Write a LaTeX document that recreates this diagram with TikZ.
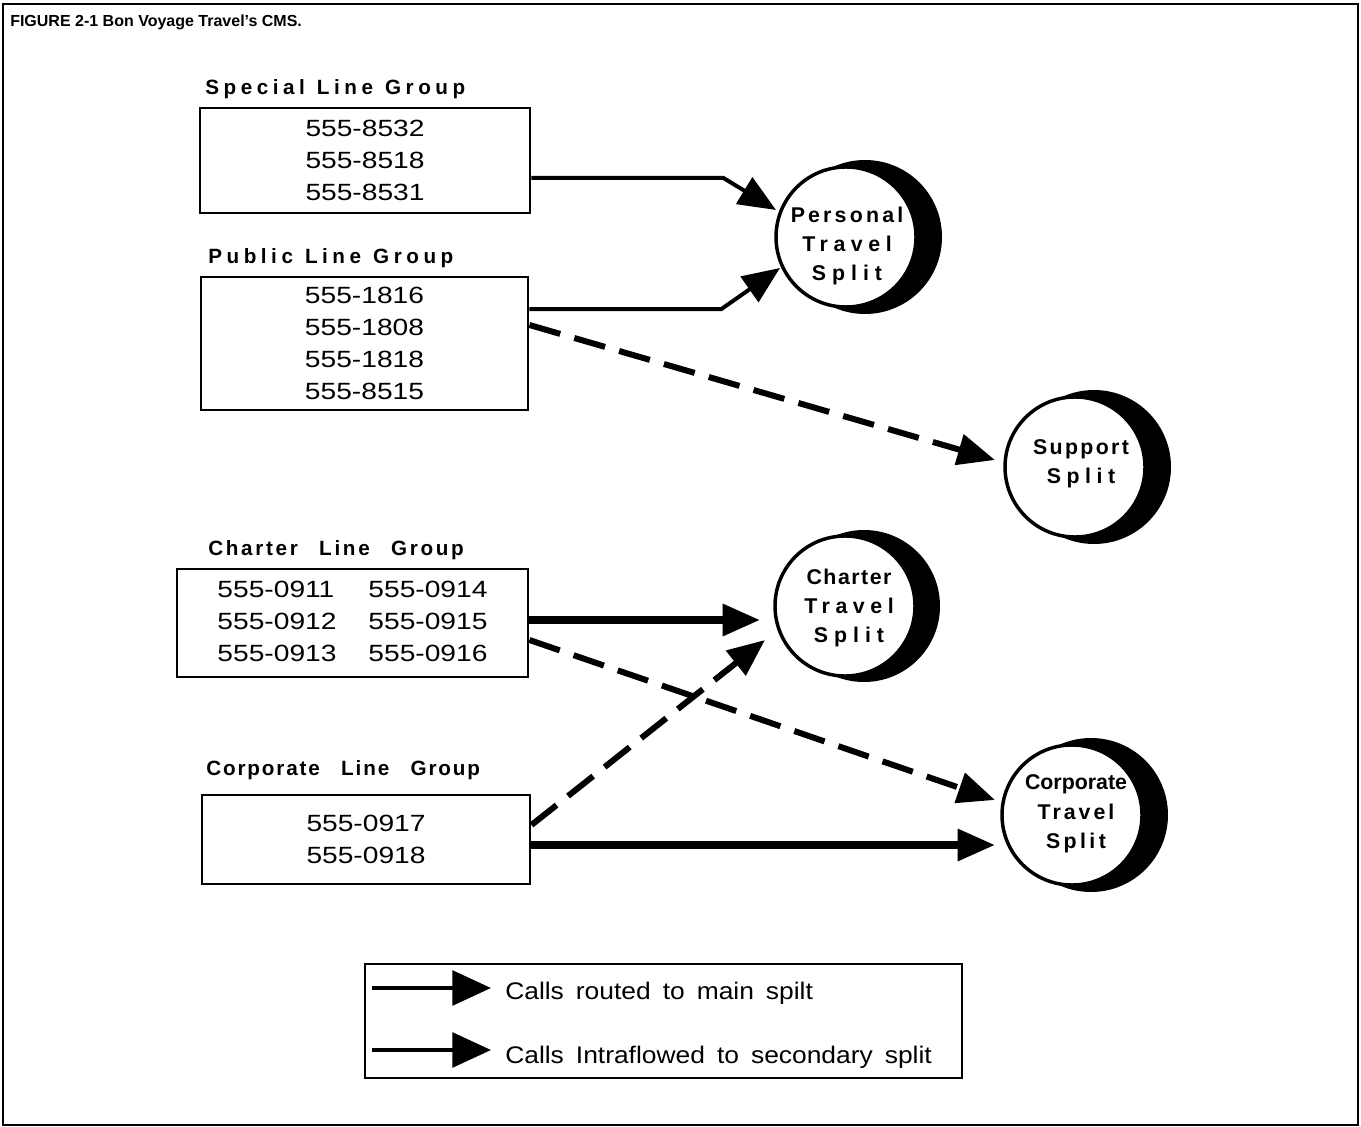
\documentclass[tikz,border=0pt]{standalone}
\usepackage{fontspec}
\setmainfont{Liberation Sans}
\newfontfamily\numfont[FakeStretch=1.2]{Liberation Sans}
\newfontfamily\legfont[FakeStretch=1.1]{Liberation Sans}
\usetikzlibrary{arrows.meta,calc}
\newcommand\lsp[2]{{\addfontfeature{LetterSpace=#1}#2}}
\newcommand\gap[1]{\hspace*{#1}}
\tikzset{
  frame/.style={draw, line width=1.5pt},
  grpbox/.style={draw, line width=2.2pt, inner sep=0pt, align=center,
     font=\numfont\fontsize{17.6pt}{24pt}\selectfont},
  grplabel/.style={anchor=west, inner sep=0pt, font=\bfseries\fontsize{15.5pt}{18pt}\selectfont},
  splitc/.style={circle, draw, fill=white, line width=2.6pt, minimum size=105pt, inner sep=0pt},
  shadowc/.style={fill=black},
  splittext/.style={align=center, inner sep=0pt, font=\bfseries\fontsize{16pt}{22pt}\selectfont},
  tip/.style={-{Triangle[length=28pt,width=23pt]}},
  mainline/.style={tip, line width=3pt},
  mainthick/.style={tip, line width=5.5pt},
  flowline/.style={tip, line width=4.5pt, dash pattern=on 24pt off 11pt},
  legline/.style={-{Triangle[length=29pt,width=26pt]}, line width=3pt},
  legtext/.style={anchor=west, inner sep=0pt, font=\legfont\fontsize{18pt}{22pt}\selectfont},
}
\begin{document}
\begin{tikzpicture}[x=0.75pt, y=-0.75pt]
\useasboundingbox (0,0) rectangle (1361,1127);
\draw[frame] (3,4) rectangle (1358,1125);
\node[anchor=west, inner sep=0pt, font=\bfseries\fontsize{12pt}{14pt}\selectfont] (title) at (10,22) {FIGURE 2-1 Bon Voyage Travel's CMS.};

% group labels
\node[grplabel] (splbl) at (205,89) {\lsp{22}{Special}\gap{9pt}\lsp{22}{Line}\gap{9pt}\lsp{22}{Group}};
\node[grplabel] (publbl) at (208,258) {\lsp{22}{Public}\gap{9pt}\lsp{22}{Line}\gap{9pt}\lsp{22}{Group}};
\node[grplabel] (chlbl) at (208,550) {\lsp{13}{Charter}\gap{16pt}\lsp{13}{Line}\gap{16pt}\lsp{13}{Group}};
\node[grplabel] (corplbl) at (206,770) {\lsp{9}{Corporate}\gap{16pt}\lsp{9}{Line}\gap{16pt}\lsp{9}{Group}};

% group boxes
\node[grpbox, minimum width=247.5pt, minimum height=78.75pt] (sp) at (365,160.5) {555-8532\\555-8518\\555-8531};
\node[grpbox, minimum width=245.25pt, minimum height=99.75pt] (pub) at (364.5,343.5) {555-1816\\555-1808\\555-1818\\555-8515};
\node[grpbox, minimum width=263.25pt, minimum height=81pt] (ch) at (352.5,623) {\begin{tabular}{@{}l@{\hspace{24pt}}l@{}}555-0911&555-0914\\555-0912&555-0915\\555-0913&555-0916\end{tabular}};
\node[grpbox, minimum width=246pt, minimum height=66.75pt] (corp) at (366,839.5) {555-0917\\555-0918};

% split circles
\coordinate (cpers) at (846,237);
\coordinate (csup) at (1075,467);
\coordinate (cchts) at (845,606);
\coordinate (ccorpts) at (1072,815);
\fill[shadowc] ($(cpers)+(19,0)$) circle[radius=77];
\fill[shadowc] ($(csup)+(19,0)$) circle[radius=77];
\fill[shadowc] ($(cchts)+(19,0)$) circle[radius=76];
\fill[shadowc] ($(ccorpts)+(19,0)$) circle[radius=77];
\node[splitc] (pers) at (cpers) {};
\node[splitc] (sup) at (csup) {};
\node[splitc] (chts) at (cchts) {};
\node[splitc] (corpts) at (ccorpts) {};
\node[splittext] (perst) at (847,246) {\lsp{15}{Personal}\\\lsp{26}{Travel}\\\lsp{28}{Split}};
\node[splittext] (supt) at (1081,464) {\lsp{11}{Support}\\\lsp{26}{Split}};
\node[splittext] (chtst) at (849,608) {\lsp{7}{Charter}\\\lsp{26}{Travel}\\\lsp{28}{Split}};
\node[splittext] (corptst) at (1076,814) {Corporate\\\lsp{14}{Travel}\\\lsp{16}{Split}};

% connectors
\draw[mainline] ($(sp.east)+(0,17.5)$) -- ++(192,0) -- ($(pers.center)+(-70,-27)$);
\draw[mainline] ($(pub.east)+(0,-34.5)$) -- ++(192,0) -- ($(pers.center)+(-66,31)$);
\draw[flowline] ($(pub.east)+(0,-18.5)$) -- ($(sup.center)+(-80,-7)$);
\draw[mainthick] ($(ch.east)+(0,-3)$) -- ($(chts.center)+(-85,14)$);
\draw[flowline] ($(ch.east)+(0,17)$) -- ($(corpts.center)+(-77,-15)$);
\draw[flowline] ($(corp.east)+(0,-14.5)$) -- ($(chts.center)+(-80,34)$);
\draw[mainthick] ($(corp.east)+(0,5.5)$) -- ($(corpts.center)+(-77,30)$);

% legend
\node[draw, line width=2pt, minimum width=447.75pt, minimum height=85.5pt, inner sep=0pt] (leg) at (663.5,1021) {};
\coordinate (l1a) at (372,988);
\coordinate (l1b) at (491,988);
\coordinate (l2a) at (372,1050);
\coordinate (l2b) at (491,1050);
\draw[legline] (l1a) -- (l1b);
\draw[legline] (l2a) -- (l2b);
\node[legtext] (leg1) at (505,993) {Calls\gap{9pt}routed\gap{9pt}to\gap{9pt}main\gap{9pt}spilt};
\node[legtext] (leg2) at (505,1057) {Calls\gap{9pt}Intraflowed\gap{9pt}to\gap{9pt}secondary\gap{9pt}split};
\end{tikzpicture}
\end{document}
